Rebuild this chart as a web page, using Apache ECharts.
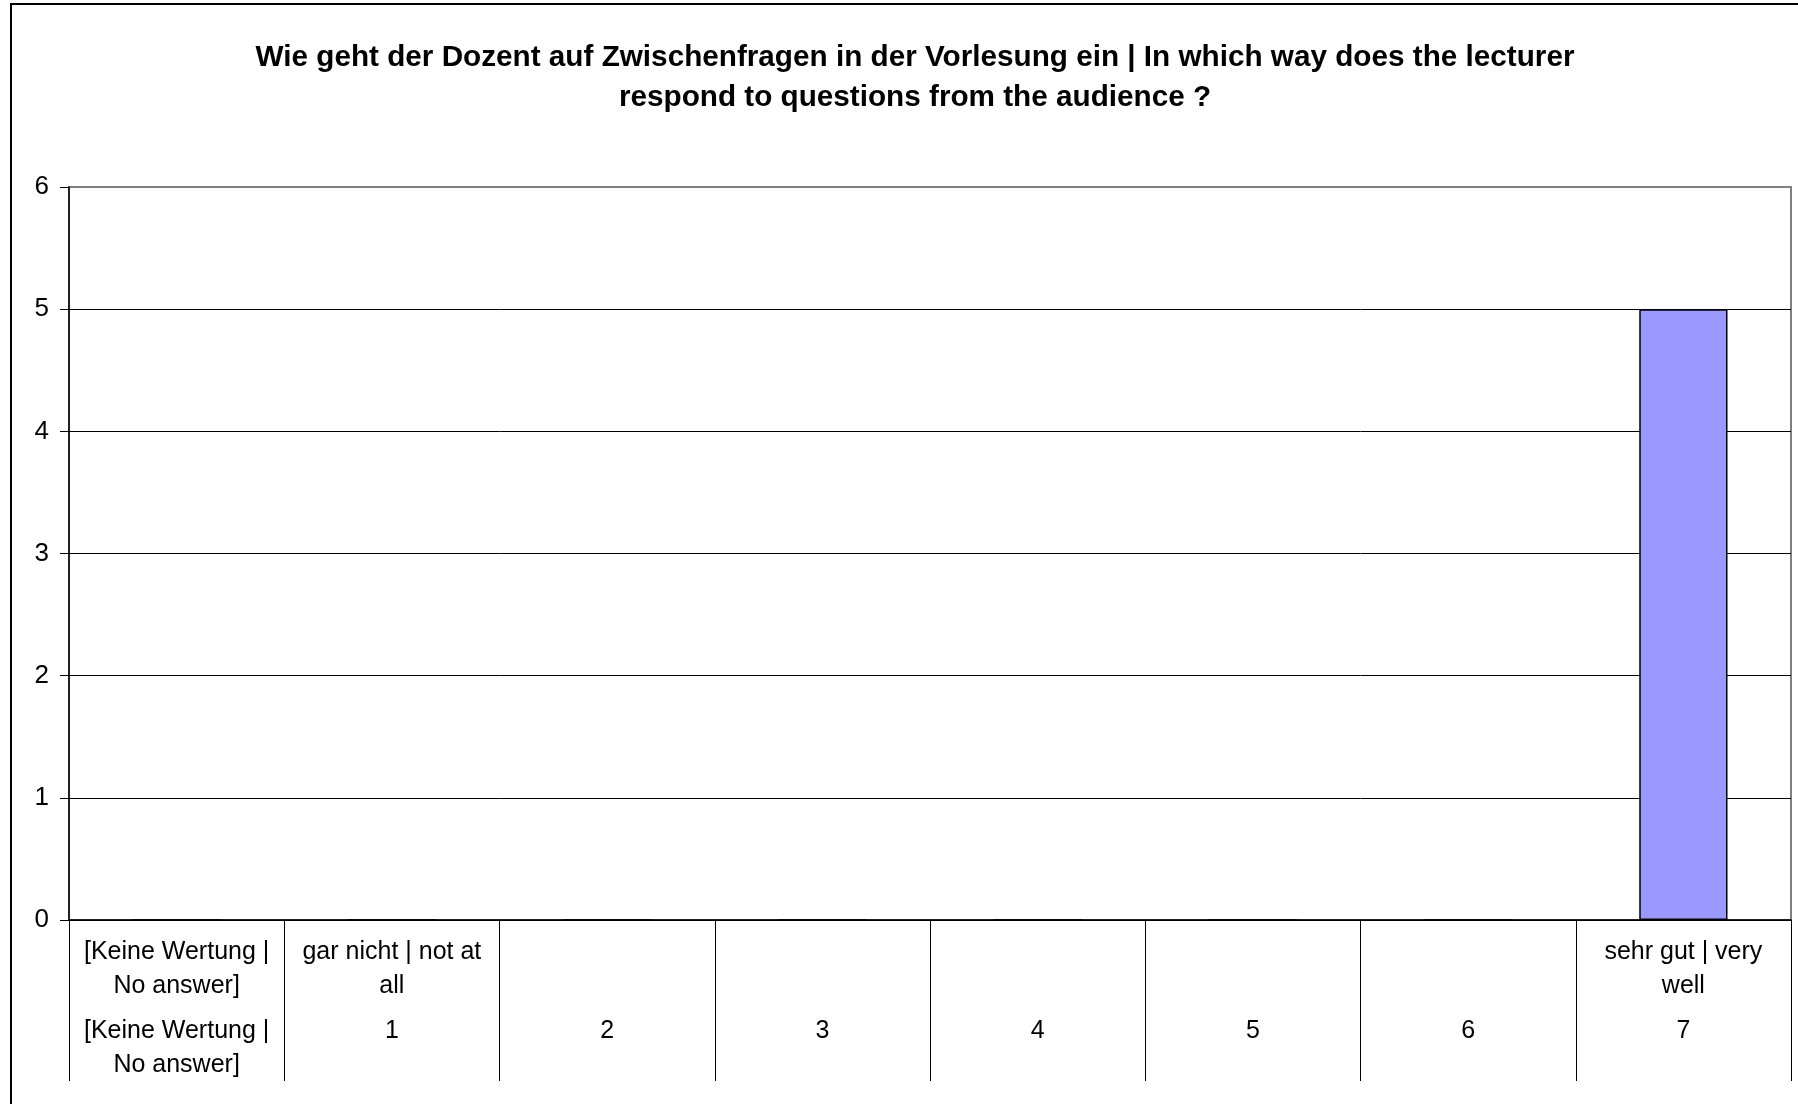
<!DOCTYPE html>
<html>
<head>
<meta charset="utf-8">
<script src="https://cdn.jsdelivr.net/npm/echarts@6/dist/echarts.min.js"></script>
<style>
  html, body { margin: 0; padding: 0; background: #fff; }
  #chart { width: 1798px; height: 1104px; }
</style>
</head>
<body>
<div id="chart"></div>
<script>
// answer scale: 8 categories, only "7" got votes
const categories = ['k.A.', '1', '2', '3', '4', '5', '6', '7'];
const counts = [0, 0, 0, 0, 0, 0, 0, 5];
const upperLabels = [
  '[Keine Wertung |\nNo answer]',
  'gar nicht | not at\nall',
  '', '', '', '', '',
  'sehr gut | very\nwell'
];
const lowerLabels = [
  '[Keine Wertung |\nNo answer]',
  '1', '2', '3', '4', '5', '6', '7'
];
const titleText = 'Wie geht der Dozent auf Zwischenfragen in der Vorlesung ein | In which way does the lecturer\nrespond to questions from the audience ?';

const font = '"Liberation Sans", Arial, sans-serif';

const chart = echarts.init(document.getElementById('chart'));

const option = {
  animation: false,
  backgroundColor: '#fff',
  title: {
    text: titleText,
    left: 910,
    top: 33,
    textAlign: 'center',
    textStyle: {
      fontFamily: font,
      fontSize: 29.7,
      fontWeight: 'bold',
      color: '#000',
      lineHeight: 40
    }
  },
  graphic: [{
    type: 'rect',
    shape: { x: 11, y: 4, width: 1800, height: 1110 },
    style: { fill: 'none', stroke: '#000', lineWidth: 2 },
    silent: true
  }],
  grid: {
    left: 69, right: 7, top: 187, bottom: 184,
    show: true,
    borderColor: '#808080',
    borderWidth: 2
  },
  xAxis: [{
    type: 'category',
    data: categories,
    position: 'bottom',
    axisLine: { lineStyle: { color: '#000', width: 1.5 } },
    axisTick: { show: true, interval: 0, length: 161, lineStyle: { color: '#000', width: 1 } },
    axisLabel: {
      interval: 0,
      margin: 15,
      fontFamily: font,
      fontSize: 25,
      lineHeight: 34,
      color: '#000',
      formatter: (v, i) => upperLabels[i]
    },
    splitLine: { show: false }
  }, {
    type: 'category',
    data: categories,
    position: 'bottom',
    axisLine: { show: false },
    axisTick: { show: false },
    axisLabel: {
      interval: 0,
      margin: 94,
      fontFamily: font,
      fontSize: 25,
      lineHeight: 34,
      color: '#000',
      formatter: (v, i) => lowerLabels[i]
    },
    splitLine: { show: false }
  }],
  yAxis: {
    type: 'value',
    min: 0,
    max: 6,
    interval: 1,
    axisLine: { show: true, lineStyle: { color: '#000', width: 1.5 } },
    axisTick: { show: true, length: 9, lineStyle: { color: '#000' } },
    axisLabel: {
      margin: 20,
      fontFamily: font,
      fontSize: 26,
      color: '#000'
    },
    splitLine: {
      show: true,
      lineStyle: {
        color: ['#000', '#000', '#000', '#000', '#000', '#000', '#808080'],
        width: 1
      }
    }
  },
  series: [{
    type: 'bar',
    data: counts,
    xAxisIndex: 0,
    barWidth: '41%',
    itemStyle: {
      color: '#9999FF',
      borderColor: '#000',
      borderWidth: 1.5
    }
  }]
};

chart.setOption(option);
</script>
</body>
</html>
